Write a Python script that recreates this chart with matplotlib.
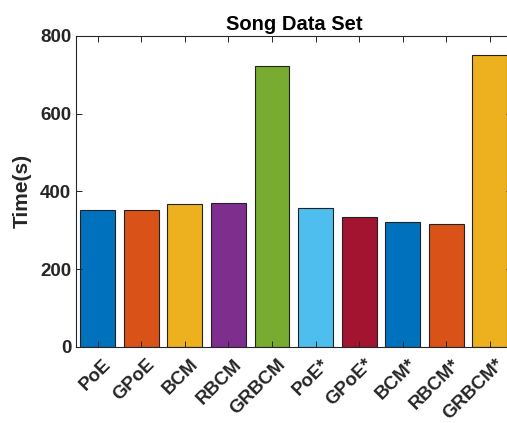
import matplotlib
matplotlib.use("Agg")
import matplotlib.pyplot as plt
from matplotlib.transforms import ScaledTranslation, blended_transform_factory

methods = ["PoE", "GPoE", "BCM", "RBCM", "GRBCM",
           "PoE*", "GPoE*", "BCM*", "RBCM*", "GRBCM*"]
times = [352, 352, 367, 370, 723, 358, 335, 320, 317, 751]
colors = ["#0072BD", "#D95319", "#EDB120", "#7E2F8E", "#77AC30",
          "#4DBEEE", "#A2142F", "#0072BD", "#D95319", "#EDB120"]
y_ticks = [0, 200, 400, 600, 800]

plt.rcParams["font.family"] = ["Liberation Sans", "DejaVu Sans"]
plt.rcParams["font.weight"] = "bold"

fig = plt.figure(figsize=(5.07, 4.23), dpi=100)
ax = fig.add_axes([0.1499, 0.1804, 0.859, 0.7345])

x = list(range(1, len(methods) + 1))
ax.bar(x, times, width=0.8, color=colors, edgecolor="#222222", linewidth=0.8)

ax.set_xlim(0.5, 10.5)
ax.set_ylim(0, 800)
ax.set_xticks(x)
ax.set_xticklabels([])

# rotated category labels, placed just under each tick
base = blended_transform_factory(ax.transData, ax.transAxes)
offset = ScaledTranslation(5 / 100, -9 / 100, fig.dpi_scale_trans)
for xi, name in zip(x, methods):
    ax.text(xi, 0, name, transform=base + offset, rotation=45,
            ha="right", va="top", rotation_mode="anchor",
            fontsize=13.5, fontweight="bold", color="#262626")

ax.set_yticks(y_ticks)
ax.set_yticklabels([str(v) for v in y_ticks], fontsize=13.5, fontweight="bold")
ax.set_ylabel("Time(s)", fontsize=15, fontweight="bold", color="#262626",
              labelpad=6)
ax.set_title("Song Data Set", fontsize=14.5, fontweight="bold", pad=4)

ax.tick_params(direction="in", top=True, right=True, length=4,
               width=0.7, color="#262626", labelcolor="#262626")
for s in ax.spines.values():
    s.set_color("#262626")
    s.set_linewidth(0.8)

fig.savefig("out.png", dpi=100)
